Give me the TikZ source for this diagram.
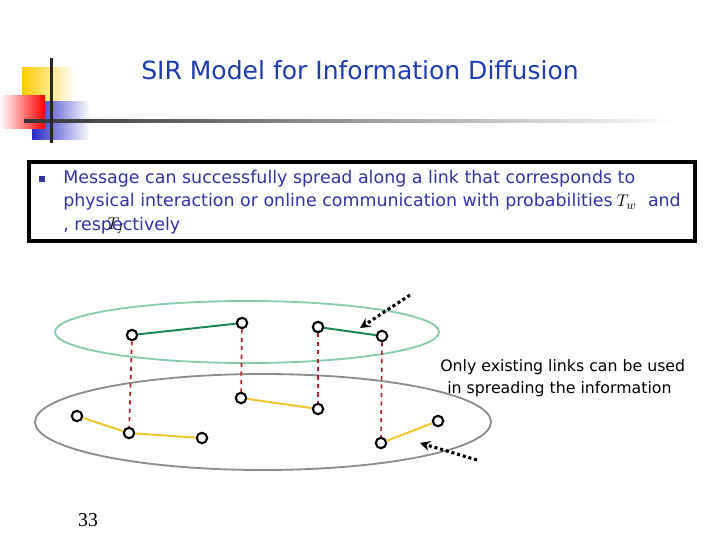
\documentclass[tikz,border=0pt]{standalone}
\usepackage{fontspec}
\setmainfont{DejaVu Sans}
\newfontfamily\numfont{Liberation Serif}
\usetikzlibrary{arrows.meta}
\definecolor{tblue}{RGB}{30,60,175}
\definecolor{bblue}{RGB}{50,50,165}
\definecolor{lgreen}{RGB}{135,205,170}
\definecolor{dgreen}{RGB}{25,135,85}
\definecolor{lyellow}{RGB}{240,200,45}
\definecolor{dred}{RGB}{175,35,45}
\definecolor{logoyellow}{RGB}{255,205,0}
\definecolor{logoblue}{RGB}{40,40,200}

\begin{document}
\begin{tikzpicture}[x=0.025cm, y=-0.025cm,
  vtx/.style={circle,draw,line width=1.5pt,fill=white,minimum size=0.26cm,inner sep=0pt},
  onlink/.style={dgreen,line width=1.4pt},
  phlink/.style={lyellow,line width=1.4pt},
  tie/.style={dred,dashed,line width=1.2pt},
  ptr/.style={-{Stealth[length=7pt,width=7pt]},line width=2.2pt,dotted}
]
\useasboundingbox (0,0) rectangle (720,540);

% logo
\shade[left color=logoyellow, middle color=logoyellow, right color=white] (22,67) rectangle (75,100);
\shade[left color=logoblue, middle color=logoblue, right color=white] (32,101) rectangle (90,139);
\shade[left color=white, right color=red] (0,95) rectangle (45,128);
\shade[left color=black!80, middle color=black!25, right color=white] (24,119.5) rectangle (680,122.5);
\fill[black!85] (49.5,58) rectangle (52.5,143);

\node[text=tblue, font=\fontsize{17.8}{20}\selectfont] (ttl) at (360,70) {SIR Model for Information Diffusion};

% message box
\draw[line width=2.2pt] (29,162) rectangle (695,241);
\fill[bblue] (39,176) rectangle (45,182);
\node[anchor=north west, align=left, text=bblue, inner sep=0pt,
      font=\fontsize{12.4}{16.65}\selectfont] (msg) at (63,170)
  {Message can successfully spread along a link that corresponds to\\
   physical interaction or online communication with probabilities\hspace{3pt}{\color{black}$T_w$}\hspace{4pt} and\\
   , respectively};
\node[inner sep=0pt] (tf) at (116,226) {\large$T_f$};

% two layers
\draw[lgreen, line width=1.3pt] (247,332) ellipse [x radius=192, y radius=31];
\draw[black!45, line width=1.3pt] (263,422) ellipse [x radius=228, y radius=48];

\node[vtx] (a1) at (132,335) {};
\node[vtx] (a2) at (242,323) {};
\node[vtx] (a3) at (318,327) {};
\node[vtx] (a4) at (382,336) {};

\node[vtx] (b1) at (77,416) {};
\node[vtx] (b2) at (129,433) {};
\node[vtx] (b3) at (202,438) {};
\node[vtx] (b4) at (241,398) {};
\node[vtx] (b5) at (318,409) {};
\node[vtx] (b6) at (381,443) {};
\node[vtx] (b7) at (438,421) {};

\draw[onlink] (a1) -- (a2);
\draw[onlink] (a3) -- (a4);
\draw[phlink] (b1) -- (b2);
\draw[phlink] (b2) -- (b3);
\draw[phlink] (b4) -- (b5);
\draw[phlink] (b6) -- (b7);
\draw[tie] (a1) -- (b2);
\draw[tie] (a2) -- (b4);
\draw[tie] (a3) -- (b5);
\draw[tie] (a4) -- (b6);

% pointers
\coordinate (p1) at (410,295);
\coordinate (q1) at (360,328);
\coordinate (p2) at (477,460);
\coordinate (q2) at (420,443);
\draw[ptr] (p1) -- (q1);
\draw[ptr] (p2) -- (q2);

\node[anchor=west, align=left, inner sep=0pt, font=\fontsize{11.2}{15.2}\selectfont] (note) at (440,378)
  {Only existing links can be used\\\hspace*{5pt}in spreading the information};

\node[font=\numfont\fontsize{14}{16}\selectfont] (pg) at (88,520) {33};
\end{tikzpicture}
\end{document}
